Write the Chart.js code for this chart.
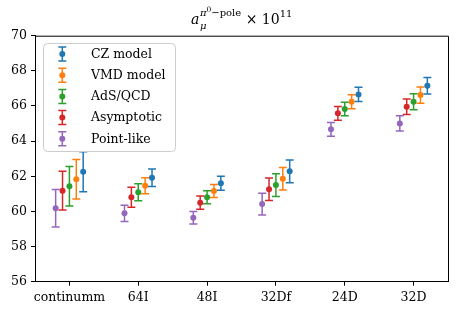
<!DOCTYPE html>
<html lang="en">
<head>
  <meta charset="UTF-8">
  <title>pi0 pole chart</title>
  <script src="https://cdn.jsdelivr.net/npm/chart.js"></script>
  <style>
    body { margin: 0; background: #fff; }
    canvas { display: block; }
  </style>
</head>
<body>
  <canvas id="chart" width="459" height="316"></canvas>

  <script>
    // lattice ensembles on the x axis
    const categories = ['continumm', '64I', '48I', '32Df', '24D', '32D'];
    const yTicks = [56, 58, 60, 62, 64, 66, 68, 70];

    // central values and errors
    const czModel    = [62.26, 61.92, 61.60, 62.28, 66.66, 67.15];
    const czErr      = [1.14, 0.50, 0.40, 0.65, 0.41, 0.47];
    const vmdModel   = [61.83, 61.46, 61.16, 61.86, 66.24, 66.62];
    const vmdErr     = [1.12, 0.46, 0.37, 0.64, 0.40, 0.46];
    const adsQcd     = [61.43, 61.09, 60.80, 61.50, 65.83, 66.24];
    const adsErr     = [1.12, 0.48, 0.37, 0.65, 0.38, 0.45];
    const asymptotic = [61.18, 60.80, 60.50, 61.26, 65.58, 65.96];
    const asymErr    = [1.10, 0.57, 0.38, 0.64, 0.39, 0.44];
    const pointLike  = [60.18, 59.89, 59.64, 60.42, 64.67, 65.01];
    const pointErr   = [1.07, 0.46, 0.35, 0.62, 0.39, 0.44];

    const series = [
      { label: 'CZ model',   values: czModel,    errors: czErr,   color: '#1f77b4', shift: 0.2 },
      { label: 'VMD model',  values: vmdModel,   errors: vmdErr,  color: '#ff7f0e', shift: 0.1 },
      { label: 'AdS/QCD',    values: adsQcd,     errors: adsErr,  color: '#2ca02c', shift: 0 },
      { label: 'Asymptotic', values: asymptotic, errors: asymErr, color: '#d62728', shift: -0.1 },
      { label: 'Point-like', values: pointLike,  errors: pointErr, color: '#9467bd', shift: -0.2 }
    ];

    const FONT = 'DejaVu Serif';
    Chart.defaults.font.family = FONT;
    Chart.defaults.font.size = 12.5;
    Chart.defaults.color = '#000';

    // vertical bar with caps, drawn below the markers
    const errorBars = {
      id: 'errorBars',
      beforeDatasetsDraw(chart) {
        const { ctx, scales: { x, y } } = chart;
        chart.data.datasets.forEach(ds => {
          ctx.save();
          ctx.strokeStyle = ds.borderColor;
          ctx.lineWidth = 1.5;
          ds.data.forEach(p => {
            const px = x.getPixelForValue(p.x);
            const top = y.getPixelForValue(p.y + p.err);
            const bot = y.getPixelForValue(p.y - p.err);
            ctx.beginPath();
            ctx.moveTo(px, top); ctx.lineTo(px, bot);
            ctx.moveTo(px - 4, top); ctx.lineTo(px + 4, top);
            ctx.moveTo(px - 4, bot); ctx.lineTo(px + 4, bot);
            ctx.stroke();
          });
          ctx.restore();
        });
      }
    };

    // top and right spines
    const frame = {
      id: 'frame',
      afterDraw(chart) {
        const { ctx, chartArea: a } = chart;
        ctx.save();
        ctx.strokeStyle = '#000';
        ctx.lineWidth = 1;
        ctx.beginPath();
        ctx.moveTo(a.left, a.top + 0.5);
        ctx.lineTo(a.right + 0.5, a.top + 0.5);
        ctx.lineTo(a.right + 0.5, a.bottom);
        ctx.stroke();
        ctx.restore();
      }
    };

    // title with sub/superscripts: a_mu^{pi0-pole} x 10^11
    const mathTitle = {
      id: 'mathTitle',
      afterDraw(chart) {
        const { ctx, chartArea: a } = chart;
        const big = 14, small = 10, tiny = 7.5;
        const base = 24;
        ctx.save();
        ctx.fillStyle = '#000';
        ctx.textBaseline = 'alphabetic';
        const f = (size, italic) => (italic ? 'italic ' : '') + size + 'px ' + FONT;

        ctx.font = f(big, true);  const wA = ctx.measureText('a').width;
        ctx.font = f(small, true); const wMu = ctx.measureText('μ').width;
        const wPi = ctx.measureText('π').width;
        ctx.font = f(tiny, false); const w0 = ctx.measureText('0').width;
        ctx.font = f(small, false); const wPole = ctx.measureText('−pole').width;
        const wSup = wPi + w0 + wPole;
        ctx.font = f(big, false); const wTimes = ctx.measureText(' × 10').width;
        ctx.font = f(small, false); const w11 = ctx.measureText('11').width;

        const total = wA + Math.max(wMu, wSup) + wTimes + w11;
        let x = (a.left + a.right) / 2 - total / 2;

        ctx.font = f(big, true); ctx.fillText('a', x, base); x += wA + 0.5;
        ctx.font = f(small, true); ctx.fillText('μ', x, base + 4.5);
        ctx.fillText('π', x, base - 8);
        ctx.font = f(tiny, false); ctx.fillText('0', x + wPi, base - 12);
        ctx.font = f(small, false); ctx.fillText('−pole', x + wPi + w0, base - 8);
        x += Math.max(wMu, wSup);
        ctx.font = f(big, false); ctx.fillText(' × 10', x, base); x += wTimes;
        ctx.font = f(small, false); ctx.fillText('11', x, base - 7);
        ctx.restore();
      }
    };

    // legend box in the upper left corner with error-bar glyphs
    const boxLegend = {
      id: 'boxLegend',
      afterDraw(chart) {
        const { ctx } = chart;
        const bx = 43.5, by = 43.5, bw = 132, bh = 108, r = 4;
        ctx.save();
        ctx.beginPath();
        ctx.roundRect(bx, by, bw, bh, r);
        ctx.fillStyle = 'rgba(255,255,255,0.8)';
        ctx.fill();
        ctx.strokeStyle = '#cccccc';
        ctx.lineWidth = 1;
        ctx.stroke();

        chart.data.datasets.forEach((ds, i) => {
          const cy = 54 + i * 21.2;
          const gx = 62.3;
          ctx.strokeStyle = ds.borderColor;
          ctx.lineWidth = 1.5;
          ctx.beginPath();
          ctx.moveTo(gx, cy - 7); ctx.lineTo(gx, cy + 7);
          ctx.moveTo(gx - 4, cy - 7); ctx.lineTo(gx + 4, cy - 7);
          ctx.moveTo(gx - 4, cy + 7); ctx.lineTo(gx + 4, cy + 7);
          ctx.stroke();
          ctx.fillStyle = ds.borderColor;
          ctx.beginPath();
          ctx.arc(gx, cy, 3, 0, Math.PI * 2);
          ctx.fill();
          ctx.fillStyle = '#000';
          ctx.font = '12.5px ' + FONT;
          ctx.textBaseline = 'middle';
          ctx.fillText(ds.label, 91, cy + 0.5);
        });
        ctx.restore();
      }
    };

    const datasets = series.map(s => ({
      label: s.label,
      data: s.values.map((v, i) => ({ x: i + s.shift, y: v, err: s.errors[i] })),
      backgroundColor: s.color,
      borderColor: s.color,
      pointRadius: 3,
      pointHoverRadius: 3,
      pointBorderWidth: 0,
      showLine: false
    }));

    new Chart(document.getElementById('chart'), {
      type: 'scatter',
      data: { datasets },
      options: {
        responsive: false,
        animation: false,
        devicePixelRatio: 1,
        layout: { padding: { top: 35.7, right: 11, bottom: 0, left: 0 } },
        plugins: {
          legend: { display: false },
          tooltip: { enabled: false },
          title: { display: false }
        },
        scales: {
          x: {
            type: 'linear',
            min: -0.5,
            max: 5.5,
            afterBuildTicks: scale => { scale.ticks = categories.map((_, i) => ({ value: i })); },
            afterFit: scale => { scale.height = 34.3; },
            ticks: {
              autoSkip: false,
              maxRotation: 0,
              padding: 5,
              callback: v => categories[v]
            },
            grid: { drawOnChartArea: false, drawTicks: true, tickLength: 4, color: '#000' },
            border: { color: '#000', width: 1 }
          },
          y: {
            min: 56,
            max: 70,
            afterBuildTicks: scale => { scale.ticks = yTicks.map(v => ({ value: v })); },
            afterFit: scale => { scale.width = 35; },
            ticks: { padding: 4 },
            grid: { drawOnChartArea: false, drawTicks: true, tickLength: 4, color: '#000' },
            border: { color: '#000', width: 1 }
          }
        }
      },
      plugins: [errorBars, frame, mathTitle, boxLegend]
    });
  </script>
</body>
</html>
